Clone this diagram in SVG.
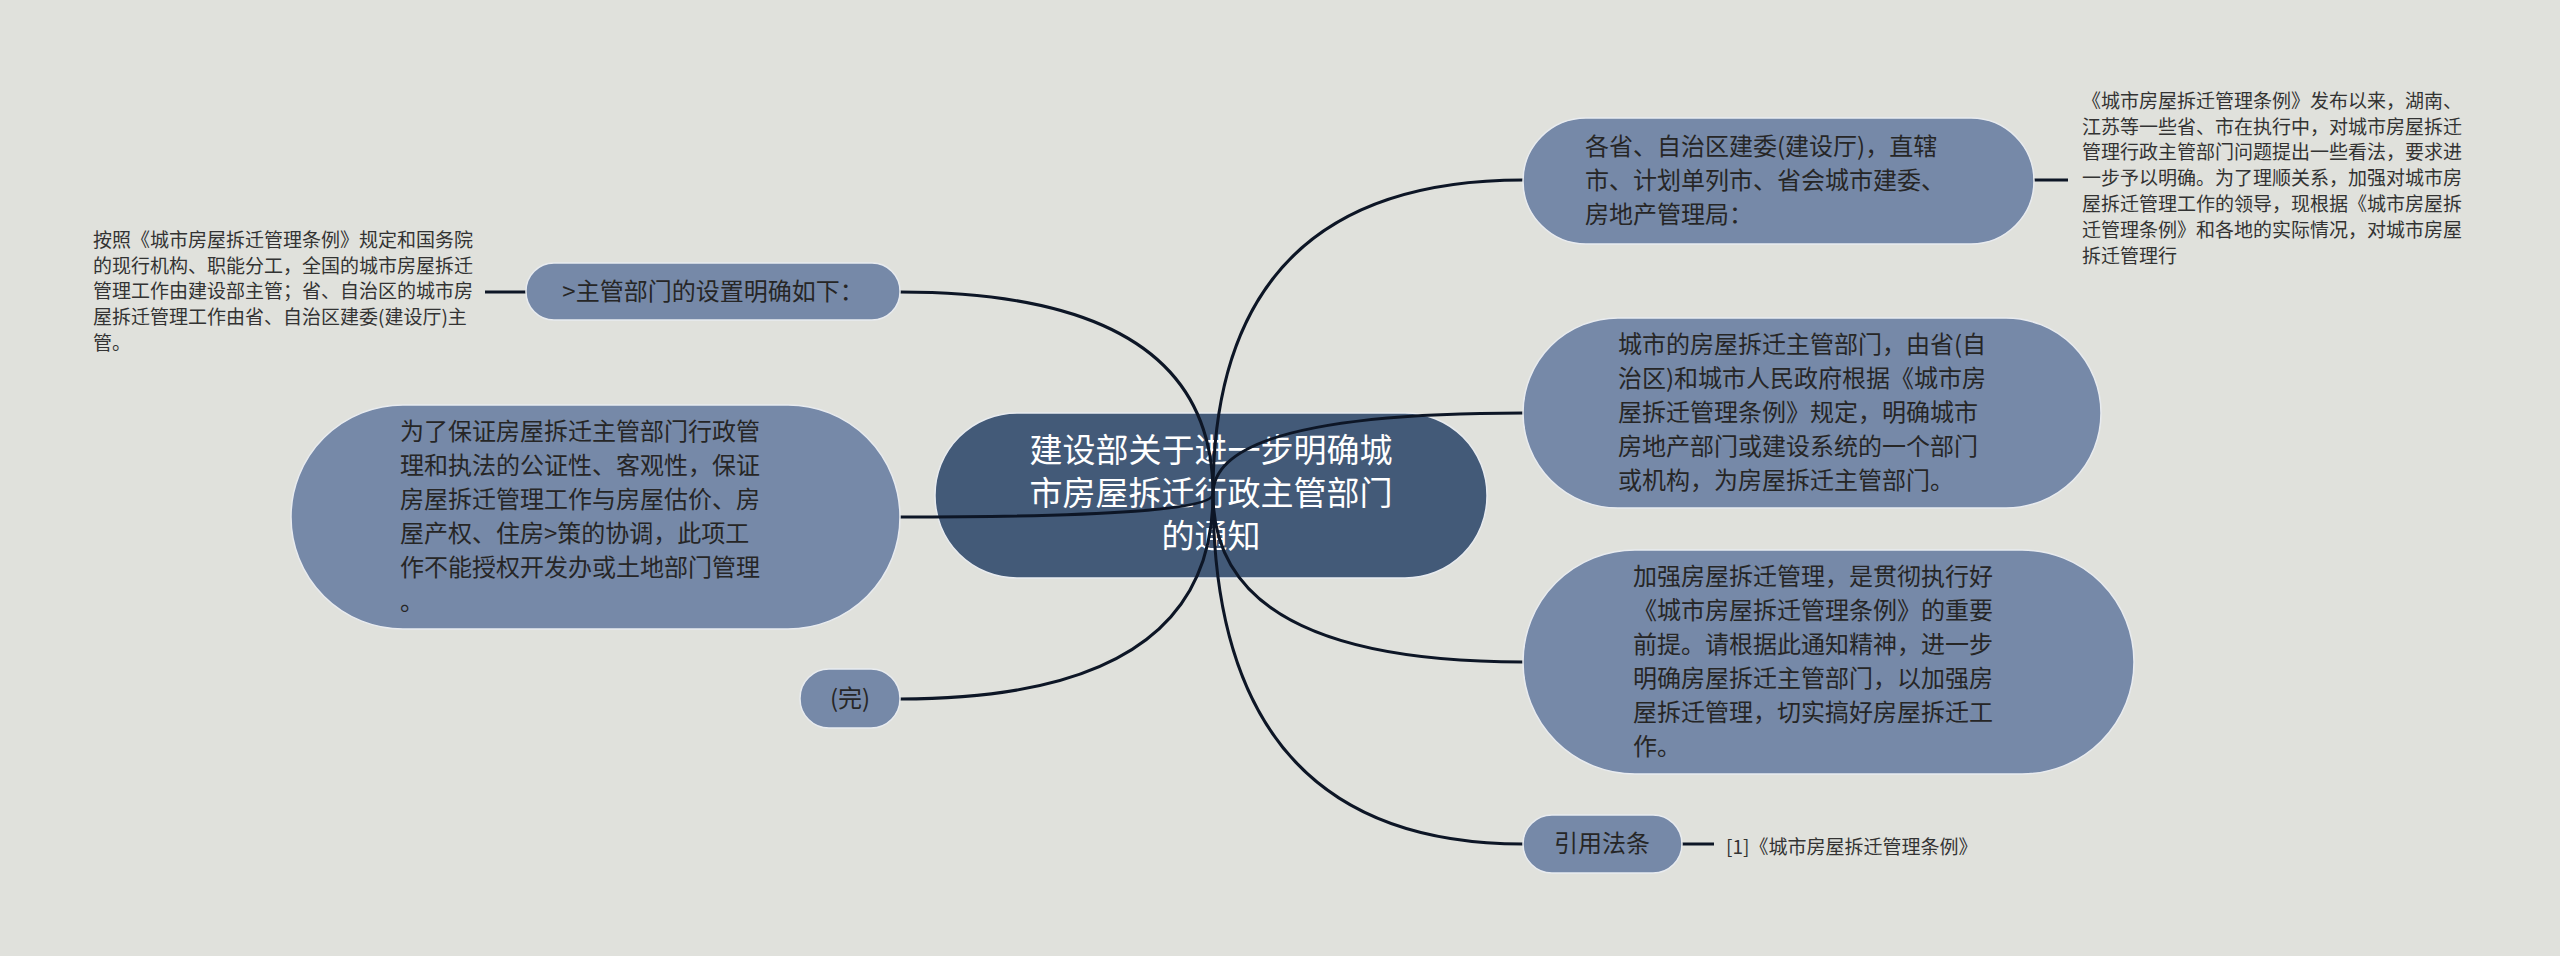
<svg xmlns="http://www.w3.org/2000/svg" width="2560" height="956" viewBox="0 0 2560 956">
<style>
.bg{fill:#e0e1dc}
.node{fill:#7689a8;stroke:#e8ebef;stroke-width:1.5}
.root{fill:#435a78;stroke:#e8ebef;stroke-width:1.5}
.t{font-family:"Noto Sans CJK SC","Noto Sans",sans-serif;font-size:24px;fill:#262626}
.rt{font-family:"Noto Sans CJK SC","Noto Sans",sans-serif;font-size:33px;fill:#ffffff;text-anchor:middle}
.leaf{font-family:"Noto Sans CJK SC","Noto Sans",sans-serif;font-size:19px;fill:#333333}
.c{text-anchor:middle}
.conn path{fill:none;stroke:#0d1626;stroke-width:3}
</style>
<rect class="bg" x="0" y="0" width="2560" height="956"/>
<g id="root">
<rect class="root" x="935" y="413" width="552" height="165" rx="82" ry="82"/>
<text class="rt" x="1211" y="462">建设部关于进一步明确城</text>
<text class="rt" x="1211" y="505">市房屋拆迁行政主管部门</text>
<text class="rt" x="1211" y="548">的通知</text>
</g>
<g class="conn" id="connectors">
<path d="M1213 494 Q1213 180 1523 180"/>
<path d="M1213 494 Q1213 413 1523 413"/>
<path d="M1213 494 Q1213 662 1523 662"/>
<path d="M1213 494 Q1213 844 1523 844"/>
<path d="M1213 494 Q1213 292 900 292"/>
<path d="M1213 494 Q1213 517 900 517"/>
<path d="M1213 494 Q1213 699 900 699"/>
<path d="M2034 180 L2068 180"/>
<path d="M485 292 L526 292"/>
<path d="M1682 844 L1714 844"/>
</g>
<g id="n-gesheng">
<rect class="node" x="1523" y="118" width="511" height="126" rx="63" ry="63"/>
<text class="t" x="1585" y="155">各省、自治区建委(建设厅)，直辖</text>
<text class="t" x="1585" y="189">市、计划单列市、省会城市建委、</text>
<text class="t" x="1585" y="223">房地产管理局：</text>
</g>
<g id="leaf-gesheng">
<text class="leaf" x="2082" y="108">《城市房屋拆迁管理条例》发布以来，湖南、</text>
<text class="leaf" x="2082" y="134">江苏等一些省、市在执行中，对城市房屋拆迁</text>
<text class="leaf" x="2082" y="159">管理行政主管部门问题提出一些看法，要求进</text>
<text class="leaf" x="2082" y="185">一步予以明确。为了理顺关系，加强对城市房</text>
<text class="leaf" x="2082" y="211">屋拆迁管理工作的领导，现根据《城市房屋拆</text>
<text class="leaf" x="2082" y="237">迁管理条例》和各地的实际情况，对城市房屋</text>
<text class="leaf" x="2082" y="263">拆迁管理行</text>
</g>
<g id="n-chengshi">
<rect class="node" x="1523" y="318" width="578" height="190" rx="95" ry="95"/>
<text class="t" x="1618" y="353">城市的房屋拆迁主管部门，由省(自</text>
<text class="t" x="1618" y="387">治区)和城市人民政府根据《城市房</text>
<text class="t" x="1618" y="421">屋拆迁管理条例》规定，明确城市</text>
<text class="t" x="1618" y="455">房地产部门或建设系统的一个部门</text>
<text class="t" x="1618" y="489">或机构，为房屋拆迁主管部门。</text>
</g>
<g id="n-jiaqiang">
<rect class="node" x="1523" y="550" width="611" height="224" rx="112" ry="112"/>
<text class="t" x="1633" y="585">加强房屋拆迁管理，是贯彻执行好</text>
<text class="t" x="1633" y="619">《城市房屋拆迁管理条例》的重要</text>
<text class="t" x="1633" y="653">前提。请根据此通知精神，进一步</text>
<text class="t" x="1633" y="687">明确房屋拆迁主管部门，以加强房</text>
<text class="t" x="1633" y="721">屋拆迁管理，切实搞好房屋拆迁工</text>
<text class="t" x="1633" y="755">作。</text>
</g>
<g id="n-yinyong">
<rect class="node" x="1523" y="815" width="159" height="58" rx="29" ry="29"/>
<text class="t c" x="1602" y="852">引用法条</text>
</g>
<g id="leaf-yinyong">
<text class="leaf" x="1726" y="854">[1]《城市房屋拆迁管理条例》</text>
</g>
<g id="n-zhuguan">
<rect class="node" x="526" y="263" width="374" height="57" rx="28" ry="28"/>
<text class="t c" x="713" y="300">&gt;主管部门的设置明确如下：</text>
</g>
<g id="leaf-zhuguan">
<text class="leaf" x="93" y="247">按照《城市房屋拆迁管理条例》规定和国务院</text>
<text class="leaf" x="93" y="273">的现行机构、职能分工，全国的城市房屋拆迁</text>
<text class="leaf" x="93" y="298">管理工作由建设部主管；省、自治区的城市房</text>
<text class="leaf" x="93" y="324">屋拆迁管理工作由省、自治区建委(建设厅)主</text>
<text class="leaf" x="93" y="350">管。</text>
</g>
<g id="n-baozheng">
<rect class="node" x="291" y="405" width="609" height="224" rx="112" ry="112"/>
<text class="t" x="400" y="440">为了保证房屋拆迁主管部门行政管</text>
<text class="t" x="400" y="474">理和执法的公证性、客观性，保证</text>
<text class="t" x="400" y="508">房屋拆迁管理工作与房屋估价、房</text>
<text class="t" x="400" y="542">屋产权、住房&gt;策的协调，此项工</text>
<text class="t" x="400" y="576">作不能授权开发办或土地部门管理</text>
<text class="t" x="400" y="610">。</text>
</g>
<g id="n-wan">
<rect class="node" x="800" y="669" width="100" height="59" rx="29" ry="29"/>
<text class="t c" x="850" y="707">(完)</text>
</g>
</svg>
